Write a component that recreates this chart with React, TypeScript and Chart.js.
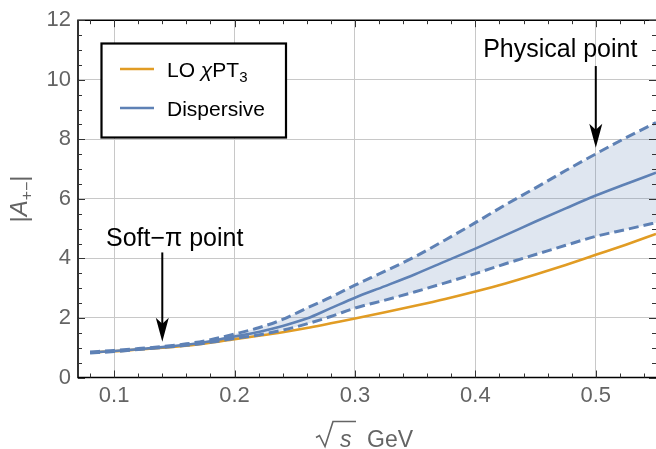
import React, { useEffect, useRef } from "react";
import { Chart, registerables } from "chart.js";

Chart.register(...registerables);

// ---- data ----
const sqrtS = [0.08, 0.1, 0.12, 0.14, 0.16, 0.18, 0.2, 0.22, 0.24, 0.26, 0.28, 0.3, 0.325, 0.35, 0.375, 0.4, 0.425, 0.45, 0.475, 0.5, 0.525, 0.55];
const dispersive = [0.84, 0.89, 0.95, 1.02, 1.1, 1.22, 1.38, 1.53, 1.73, 1.98, 2.33, 2.68, 3.07, 3.47, 3.9, 4.33, 4.78, 5.24, 5.68, 6.11, 6.5, 6.88];
const dispersiveUpper = [0.86, 0.91, 0.97, 1.04, 1.13, 1.27, 1.46, 1.67, 1.95, 2.33, 2.7, 3.1, 3.57, 4.06, 4.62, 5.2, 5.8, 6.37, 6.95, 7.51, 8.05, 8.56];
const dispersiveLower = [0.82, 0.87, 0.94, 1.01, 1.08, 1.18, 1.31, 1.43, 1.59, 1.8, 2.05, 2.33, 2.6, 2.88, 3.18, 3.49, 3.82, 4.13, 4.44, 4.74, 4.97, 5.2];
const loChiPT = [0.84, 0.88, 0.94, 1.0, 1.07, 1.17, 1.29, 1.4, 1.52, 1.66, 1.82, 1.98, 2.19, 2.41, 2.64, 2.89, 3.16, 3.46, 3.78, 4.12, 4.46, 4.82];

const xTicks = [0.1, 0.2, 0.3, 0.4, 0.5];
const yTicks = [0, 2, 4, 6, 8, 10, 12];
const xRange = [0.07, 0.55];
const yRange = [0, 12];

// annotations: arrows (x, from y, to y) and label positions
const physicalArrow = { x: 0.5, from: 10.46, to: 7.72 };
const physicalLabel = { x: 0.4705, y: 10.77, text: "Physical point" };
const softArrow = { x: 0.14, from: 4.2, to: 1.2 };
const softLabel = { x: 0.1503, y: 4.4, text: "Soft\u2212\u03c0 point" };

const BLUE = "#5E81B5";
const ORANGE = "#E19C24";
const FONT = "'Liberation Sans', Arial, Helvetica, sans-serif";
const GRAY = "#646464";

const toPts = (ys: number[]) => sqrtS.map((x, i) => ({ x, y: ys[i] }));

function drawArrow(ctx: CanvasRenderingContext2D, x: number, y0: number, y1: number) {
  ctx.save();
  ctx.strokeStyle = "#000";
  ctx.fillStyle = "#000";
  ctx.lineWidth = 2;
  ctx.beginPath();
  ctx.moveTo(x, y0);
  ctx.lineTo(x, y1 - 12);
  ctx.stroke();
  ctx.beginPath();
  ctx.moveTo(x, y1);
  ctx.lineTo(x - 6.5, y1 - 24);
  ctx.lineTo(x, y1 - 18);
  ctx.lineTo(x + 6.5, y1 - 24);
  ctx.closePath();
  ctx.fill();
  ctx.restore();
}

const decorPlugin = {
  id: "decor",
  afterDraw(chart: any) {
    const ctx: CanvasRenderingContext2D = chart.ctx;
    const { left, right, top, bottom } = chart.chartArea;
    const xs = chart.scales.x;
    const ys = chart.scales.y;
    ctx.save();

    // frame
    ctx.strokeStyle = "#000";
    ctx.lineWidth = 1.6;
    ctx.beginPath();
    ctx.moveTo(right, top);
    ctx.lineTo(left, top);
    ctx.lineTo(left, bottom);
    ctx.lineTo(right, bottom);
    ctx.stroke();

    // ticks
    ctx.lineWidth = 1;
    ctx.strokeStyle = "#333";
    ctx.beginPath();
    for (let k = 4; k <= 27; k++) {
      const v = k * 0.02;
      if (v < xRange[0] || v > xRange[1] + 1e-9) continue;
      const major = k % 5 === 0;
      const len = major ? 7 : 4;
      const px = Math.round(xs.getPixelForValue(v)) + 0.5;
      ctx.moveTo(px, bottom);
      ctx.lineTo(px, bottom - len);
      ctx.moveTo(px, top);
      ctx.lineTo(px, top + len);
    }
    for (let k = 0; k <= 24; k++) {
      const v = k * 0.5;
      const major = k % 4 === 0;
      const len = major ? 7 : 4;
      const py = Math.round(ys.getPixelForValue(v)) + 0.5;
      ctx.moveTo(left, py);
      ctx.lineTo(left + len, py);
      ctx.moveTo(right, py);
      ctx.lineTo(right - len, py);
    }
    ctx.stroke();

    // legend
    const lx = 101.5, ly = 43.5, lw = 184.5, lh = 94;
    ctx.fillStyle = "#fff";
    ctx.fillRect(lx, ly, lw, lh);
    ctx.strokeStyle = "#000";
    ctx.lineWidth = 2.2;
    ctx.strokeRect(lx, ly, lw, lh);
    const rows = [
      { color: ORANGE, y: 69 },
      { color: BLUE, y: 108 },
    ];
    rows.forEach((r) => {
      ctx.strokeStyle = r.color;
      ctx.lineWidth = 2.6;
      ctx.beginPath();
      ctx.moveTo(120, r.y);
      ctx.lineTo(154, r.y);
      ctx.stroke();
    });
    ctx.fillStyle = "#000";
    ctx.textBaseline = "alphabetic";
    ctx.textAlign = "left";
    let tx = 167;
    const b1 = 69 + 7.5;
    ctx.font = `21px ${FONT}`;
    ctx.fillText("LO ", tx, b1);
    tx += ctx.measureText("LO ").width;
    ctx.font = `italic 21px ${FONT}`;
    ctx.fillText("\u03c7", tx, b1);
    tx += ctx.measureText("\u03c7").width;
    ctx.font = `21px ${FONT}`;
    ctx.fillText("PT", tx, b1);
    tx += ctx.measureText("PT").width;
    ctx.font = `15px ${FONT}`;
    ctx.fillText("3", tx, b1 + 5);
    ctx.font = `21px ${FONT}`;
    ctx.fillText("Dispersive", 167, 108 + 7.5);

    // annotations
    ctx.textAlign = "center";
    ctx.fillStyle = "#000";
    ctx.font = `25px ${FONT}`;
    ctx.fillText(physicalLabel.text, xs.getPixelForValue(physicalLabel.x), ys.getPixelForValue(physicalLabel.y));
    ctx.font = `25px ${FONT}`;
    ctx.fillText(softLabel.text, xs.getPixelForValue(softLabel.x), ys.getPixelForValue(softLabel.y));
    drawArrow(ctx, xs.getPixelForValue(physicalArrow.x), ys.getPixelForValue(physicalArrow.from), ys.getPixelForValue(physicalArrow.to));
    drawArrow(ctx, xs.getPixelForValue(softArrow.x), ys.getPixelForValue(softArrow.from), ys.getPixelForValue(softArrow.to));

    // x axis title: sqrt(s) GeV
    const cx = (left + right) / 2;
    const base = 446.5;
    ctx.strokeStyle = GRAY;
    ctx.fillStyle = GRAY;
    ctx.lineWidth = 1.6;
    const rx = cx - 49;
    ctx.beginPath();
    ctx.moveTo(rx - 2, base - 9);
    ctx.lineTo(rx + 1.5, base - 11);
    ctx.lineTo(rx + 7, base);
    ctx.lineTo(rx + 15, base - 25);
    ctx.lineTo(rx + 38, base - 25);
    ctx.stroke();
    ctx.textAlign = "left";
    ctx.font = `italic 23px ${FONT}`;
    ctx.fillText("s", rx + 22, base);
    ctx.font = `23px ${FONT}`;
    ctx.fillText("GeV", rx + 49, base);

    // y axis title: |A+-|
    ctx.save();
    ctx.translate(27, 199);
    ctx.rotate(-Math.PI / 2);
    ctx.fillStyle = GRAY;
    const parts = [
      { t: "|", f: `24px ${FONT}`, dy: 0 },
      { t: "A", f: `italic 24px ${FONT}`, dy: 0 },
      { t: "+\u2212", f: `16px ${FONT}`, dy: 5 },
      { t: "|", f: `24px ${FONT}`, dy: 0 },
    ];
    let total = 0;
    parts.forEach((p) => {
      ctx.font = p.f;
      total += ctx.measureText(p.t).width;
    });
    let px = -total / 2;
    ctx.textAlign = "left";
    parts.forEach((p) => {
      ctx.font = p.f;
      ctx.fillText(p.t, px, p.dy);
      px += ctx.measureText(p.t).width;
    });
    ctx.restore();

    ctx.restore();
  },
};

export default function App() {
  const ref = useRef<HTMLCanvasElement | null>(null);
  useEffect(() => {
    document.body.style.margin = "0";
    const canvas = ref.current!;
    const chart = new Chart(canvas, {
      type: "line",
      data: {
        datasets: [
          {
            label: "Dispersive",
            data: toPts(dispersive),
            borderColor: BLUE,
            borderWidth: 2.6,
            pointRadius: 0,
            fill: false,
            cubicInterpolationMode: "monotone",
          },
          {
            label: "upper",
            data: toPts(dispersiveUpper),
            borderColor: BLUE,
            borderWidth: 3,
            borderDash: [10, 5],
            pointRadius: 0,
            fill: "+1",
            backgroundColor: "rgba(94,129,181,0.2)",
            cubicInterpolationMode: "monotone",
          },
          {
            label: "lower",
            data: toPts(dispersiveLower),
            borderColor: BLUE,
            borderWidth: 3,
            borderDash: [10, 5],
            pointRadius: 0,
            fill: false,
            cubicInterpolationMode: "monotone",
          },
          {
            label: "LO",
            data: toPts(loChiPT),
            borderColor: ORANGE,
            borderWidth: 2.6,
            pointRadius: 0,
            fill: false,
            cubicInterpolationMode: "monotone",
          },
        ],
      },
      options: {
        responsive: false,
        maintainAspectRatio: false,
        devicePixelRatio: 1,
        animation: false,
        layout: { padding: { top: 19, right: 0, left: 0, bottom: 0 } },
        plugins: {
          legend: { display: false },
          tooltip: { enabled: false },
        },
        scales: {
          x: {
            type: "linear",
            min: xRange[0],
            max: xRange[1],
            afterBuildTicks: (s: any) => {
              s.ticks = xTicks.map((value) => ({ value }));
            },
            afterFit: (s: any) => {
              s.height = 71.5;
            },
            grid: { color: "#c8c8c8", lineWidth: 1, drawTicks: false },
            border: { display: false },
            ticks: {
              color: GRAY,
              font: { family: FONT, size: 22 },
              padding: 5,
              maxRotation: 0,
              callback: (v: any) => Number(v).toFixed(1),
            },
          },
          y: {
            type: "linear",
            min: yRange[0],
            max: yRange[1],
            afterBuildTicks: (s: any) => {
              s.ticks = yTicks.map((value) => ({ value }));
            },
            afterFit: (s: any) => {
              s.width = 78;
            },
            grid: { color: "#c8c8c8", lineWidth: 1, drawTicks: false },
            border: { display: false },
            ticks: {
              color: GRAY,
              font: { family: FONT, size: 22 },
              padding: 7,
              callback: (v: any) => String(v),
            },
          },
        },
      },
      plugins: [decorPlugin],
    } as any);
    return () => chart.destroy();
  }, []);
  return (
    <div style={{ width: 656, height: 449 }}>
      <canvas ref={ref} width={656} height={449} style={{ display: "block" }} />
    </div>
  );
}
